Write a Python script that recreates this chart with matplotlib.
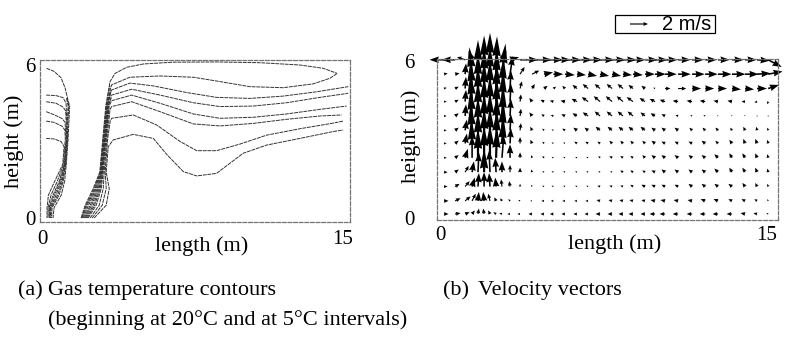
import numpy as np
import matplotlib
matplotlib.use("Agg")
import matplotlib.pyplot as plt
from matplotlib.patches import Rectangle

plt.rcParams["font.family"] = ["Liberation Serif", "DejaVu Serif"]

# ---------------- (a) temperature contours ----------------
# plume next to the left wall
wall_0 = [(0.23, 5.87), (0.6, 5.75), (0.95, 5.5), (1.15, 5.1), (1.3, 4.6), (1.38, 4.4),
          (1.3, 3.1), (1.21, 2.1), (1.13, 1.45), (0.96, 0.9), (0.6, 0.4), (0.55, 0.0)]
wall_1 = [(0.21, 4.82), (0.7, 4.8), (1.05, 4.72), (1.2, 4.5), (1.27, 3.1), (1.18, 2.1),
          (1.05, 1.42), (0.85, 0.9), (0.5, 0.4), (0.48, 0.0)]
wall_2 = [(0.21, 4.56), (0.7, 4.5), (1.05, 4.35), (1.18, 4.2), (1.24, 3.1), (1.15, 2.1),
          (0.95, 1.42), (0.7, 0.9), (0.42, 0.4), (0.42, 0.0)]
wall_3 = [(0.21, 4.17), (0.6, 4.05), (1.0, 3.9), (1.15, 3.75), (1.2, 3.1), (1.11, 2.1),
          (0.85, 1.42), (0.55, 0.9), (0.35, 0.4), (0.36, 0.0)]
wall_4 = [(0.21, 3.8), (0.6, 3.75), (1.0, 3.6), (1.14, 3.45), (1.16, 3.1), (1.07, 2.1),
          (0.75, 1.42), (0.45, 0.9), (0.3, 0.4), (0.3, 0.0)]
wall_5 = [(0.21, 3.12), (0.6, 3.1), (0.95, 3.0), (1.1, 2.8), (1.03, 2.1), (0.62, 1.42),
          (0.32, 0.9), (0.25, 0.4), (0.25, 0.0)]
wall_6 = [(1.25, 4.7), (1.33, 4.4), (1.26, 3.1), (1.17, 2.1), (1.0, 1.42), (0.78, 0.9),
          (0.45, 0.4), (0.45, 0.0)]
wall_7 = [(1.22, 4.7), (1.30, 4.4), (1.22, 3.1), (1.13, 2.1), (0.9, 1.42), (0.62, 0.9),
          (0.38, 0.4), (0.38, 0.0)]

# main plume and the layers spreading to the right
layer_1 = [(1.95, 0.0), (2.15, 0.5), (2.55, 1.15), (2.88, 1.8), (3.03, 3.1), (3.18, 4.4),
           (3.39, 5.35), (3.64, 5.67), (4.22, 5.91), (5.05, 6.04), (6.54, 6.11), (8.70, 6.12),
           (10.86, 6.09), (12.85, 6.0), (14.02, 5.87), (14.71, 5.67)]
layer_2 = [(2.0, 0.0), (2.25, 0.5), (2.65, 1.15), (2.92, 1.8), (3.07, 3.1), (3.23, 4.4),
           (3.42, 5.1), (3.47, 5.22), (4.38, 5.52), (5.88, 5.57), (7.54, 5.52), (8.87, 5.35),
           (10.36, 5.15), (12.02, 5.11), (13.52, 5.26), (14.35, 5.48), (14.71, 5.67)]
layer_3 = [(2.1, 0.0), (2.4, 0.5), (2.75, 1.15), (2.96, 1.8), (3.11, 3.1), (3.27, 4.4),
           (3.42, 4.9), (3.47, 5.02), (4.38, 5.29), (5.55, 5.18), (7.21, 4.92), (8.70, 4.73),
           (10.36, 4.69), (12.02, 4.78), (13.69, 4.95), (15.26, 5.15)]
layer_4 = [(2.2, 0.0), (2.55, 0.5), (2.85, 1.15), (3.0, 1.8), (3.15, 3.1), (3.31, 4.4),
           (3.47, 4.82), (4.47, 5.05), (5.88, 4.82), (7.54, 4.52), (8.87, 4.37), (10.53, 4.39),
           (12.19, 4.52), (13.85, 4.73), (15.26, 4.89)]
layer_5 = [(2.3, 0.0), (2.7, 0.5), (2.95, 1.15), (3.05, 1.8), (3.19, 3.1), (3.35, 4.4),
           (3.47, 4.60), (4.47, 4.82), (5.88, 4.50), (7.54, 4.08), (8.87, 3.91), (10.53, 3.95),
           (12.19, 4.08), (13.85, 4.26), (15.18, 4.39)]
layer_6 = [(2.4, 0.0), (2.85, 0.5), (3.05, 1.15), (3.1, 1.8), (3.23, 3.1), (3.39, 4.25),
           (3.47, 4.37), (4.47, 4.56), (5.88, 4.17), (7.54, 3.69), (8.87, 3.61), (10.53, 3.71),
           (12.19, 3.87), (13.85, 4.0), (14.93, 4.04)]
layer_7 = [(2.5, 0.0), (3.0, 0.5), (3.2, 1.15), (3.15, 1.8), (3.27, 3.1), (3.4, 3.8),
           (3.47, 3.91), (4.55, 4.04), (5.71, 3.65), (6.88, 3.0), (7.71, 2.64), (8.70, 2.64),
           (9.87, 2.9), (11.2, 3.25), (12.85, 3.5), (14.51, 3.72), (15.01, 3.8)]
layer_8 = [(2.6, 0.0), (3.2, 0.5), (3.35, 1.15), (3.2, 1.8), (3.3, 2.8), (3.55, 3.06),
           (4.55, 3.28), (5.55, 3.12), (6.21, 2.5), (7.04, 1.82), (7.71, 1.65), (8.70, 1.75),
           (10.03, 2.54), (11.2, 2.86), (12.85, 3.12), (14.51, 3.39), (15.01, 3.45)]
plume_a = [(1.97, 0.0), (2.2, 0.5), (2.6, 1.15), (2.9, 1.8), (3.05, 3.1), (3.2, 4.4), (3.38, 5.2)]
plume_b = [(2.05, 0.0), (2.32, 0.5), (2.7, 1.15), (2.94, 1.8), (3.09, 3.1), (3.25, 4.4), (3.43, 5.0)]
plume_c = [(2.15, 0.0), (2.47, 0.5), (2.8, 1.15), (2.98, 1.8), (3.13, 3.1), (3.29, 4.4), (3.45, 4.7)]
plume_d = [(2.25, 0.0), (2.62, 0.5), (2.9, 1.15), (3.02, 1.8), (3.17, 3.1), (3.33, 4.3)]

contours = [wall_0, wall_1, wall_2, wall_3, wall_4, wall_5, wall_6, wall_7,
            layer_1, layer_2, layer_3, layer_4, layer_5, layer_6, layer_7, layer_8,
            plume_a, plume_b, plume_c, plume_d]

# ---------------- (b) velocity vectors (m/s), rows from ceiling to floor ----------------
vec_x = [0.18, 0.69, 1.15, 1.47, 1.74, 2.02, 2.29, 2.57, 2.84, 3.21, 3.67, 4.22, 4.77, 5.2,
         5.73, 6.28, 6.79, 7.34, 7.89, 8.39, 8.85, 9.40, 9.86, 10.32, 10.92, 11.56, 12.16,
         12.75, 13.39, 13.99, 14.54, 15.05]
vec_y = [6.05, 5.5, 4.95, 4.45, 3.9, 3.35, 2.85, 2.3, 1.75, 1.2, 0.65, 0.15]

vel_u = [
    [-1.6, -1.5, -0.9, -0.4, 0.0, 0.0, 0.0, 0.2, 0.5, 1.0, 2.0, 2.2, 2.1, 1.9, 1.8, 1.7,
     1.6, 1.6, 1.5, 1.5, 1.4, 1.4, 1.4, 1.4, 1.4, 1.3, 1.3, 1.3, 1.3, 1.3, 1.4, 1.5],
    [0.4, 0.5, 0.1, -0.3, 0.0, 0.0, 0.0, 0.1, 0.4, 0.3, 0.5, 0.8, 1.0, 1.1, 1.1, 1.0,
     1.0, 1.0, 1.0, 1.0, 1.1, 1.1, 1.2, 1.3, 1.4, 1.4, 1.4, 1.5, 1.5, 1.5, 1.5, 1.6],
    [0.3, 0.4, 0.1, -0.2, 0.0, 0.0, 0.0, 0.1, 0.2, 0.1, 0.2, 0.3, 0.4, 0.3, -0.3, -0.5,
     -0.6, -0.6, -0.6, -0.6, -0.5, -0.4, -0.2, 0.6, 0.9, 1.0, 1.0, 1.0, 1.0, 1.0, 1.1, 1.2],
    [0.3, 0.4, 0.1, -0.2, 0.0, 0.0, 0.0, 0.1, 0.2, 0.1, 0.1, -0.3, -0.4, -0.4, -0.5, -0.6,
     -0.7, -0.7, -0.7, -0.7, -0.7, -0.6, -0.6, -0.6, -0.6, -0.6, -0.6, -0.5, -0.5, -0.4, -0.3, -0.1],
    [0.3, 0.4, 0.1, -0.2, 0.0, 0.0, 0.0, 0.1, 0.2, 0.1, 0.1, -0.3, -0.3, -0.3, -0.4, -0.5,
     -0.6, -0.6, -0.6, -0.6, -0.6, -0.5, -0.5, -0.4, -0.3, -0.2, -0.2, -0.1, -0.1, -0.1, 0.0, 0.0],
    [0.3, 0.4, 0.2, -0.2, 0.0, 0.0, 0.0, 0.1, 0.2, 0.1, 0.1, -0.2, -0.2, -0.2, -0.3, -0.4,
     -0.4, -0.5, -0.5, -0.5, -0.5, -0.5, -0.4, -0.4, -0.4, -0.3, -0.3, -0.3, -0.2, -0.2, -0.1, -0.1],
    [0.3, 0.4, 0.2, -0.1, 0.0, 0.0, 0.0, 0.1, 0.2, 0.1, 0.0, -0.2, -0.2, -0.2, -0.2, -0.3,
     -0.3, -0.3, -0.3, -0.3, -0.3, -0.3, -0.4, -0.4, -0.4, -0.4, -0.4, -0.3, -0.3, -0.2, -0.2, -0.1],
    [0.3, 0.4, 0.3, 0.0, 0.0, 0.0, 0.0, 0.1, 0.2, 0.0, 0.0, -0.1, -0.2, -0.2, -0.2, -0.2,
     -0.2, -0.2, -0.3, -0.3, -0.3, -0.3, -0.4, -0.4, -0.4, -0.4, -0.4, -0.4, -0.3, -0.3, -0.2, -0.1],
    [0.4, 0.4, 0.4, 0.2, 0.1, 0.0, -0.1, -0.1, 0.0, 0.0, 0.0, -0.1, -0.2, -0.2, -0.2, -0.2,
     -0.2, -0.2, -0.2, -0.3, -0.3, -0.3, -0.4, -0.4, -0.4, -0.4, -0.4, -0.4, -0.3, -0.3, -0.2, -0.1],
    [0.4, 0.5, 0.5, 0.3, 0.1, 0.0, -0.1, -0.1, -0.1, -0.1, 0.0, -0.1, -0.2, -0.2, -0.2, -0.2,
     -0.2, -0.3, -0.3, -0.3, -0.3, -0.4, -0.4, -0.4, -0.4, -0.4, -0.4, -0.4, -0.4, -0.3, -0.2, -0.1],
    [0.5, 0.6, 0.6, 0.4, 0.1, -0.1, -0.2, -0.2, -0.2, -0.2, -0.2, -0.2, -0.3, -0.3, -0.3, -0.3,
     -0.3, -0.4, -0.4, -0.4, -0.4, -0.4, -0.5, -0.5, -0.5, -0.5, -0.5, -0.5, -0.4, -0.4, -0.3, -0.1],
    [0.5, 0.6, 0.5, 0.3, 0.1, -0.1, -0.2, -0.3, -0.3, -0.3, -0.3, -0.4, -0.4, -0.4, -0.4, -0.4,
     -0.4, -0.5, -0.5, -0.5, -0.5, -0.5, -0.6, -0.6, -0.6, -0.6, -0.6, -0.6, -0.6, -0.5, -0.4, -0.2],
]
vel_v = [
    [0.0, 0.0, 0.3, 1.0, 1.3, 1.6, 1.8, 1.5, 1.0, 0.3, 0.0, 0.0, 0.0, 0.0, 0.0, 0.0,
     0.0, 0.0, 0.0, 0.0, 0.0, 0.0, 0.0, 0.0, 0.0, 0.0, 0.0, 0.0, 0.0, 0.0, -0.1, -0.8],
    [0.1, 0.1, 1.2, 3.0, 3.8, 4.3, 4.6, 4.2, 3.4, 2.0, 0.8, 0.4, 0.2, 0.0, -0.1, -0.1,
     -0.2, -0.2, -0.2, -0.1, -0.1, 0.0, 0.0, 0.0, 0.0, 0.0, 0.0, 0.0, 0.0, 0.0, 0.1, 0.3],
    [0.1, 0.2, 1.3, 3.0, 3.8, 4.4, 4.6, 4.2, 3.3, 2.0, 0.8, 0.5, 0.3, 0.2, 0.3, 0.4,
     0.5, 0.5, 0.5, 0.5, 0.4, 0.3, 0.1, 0.0, 0.0, 0.0, 0.0, 0.0, -0.1, -0.1, 0.0, 0.4],
    [0.0, 0.2, 1.3, 3.0, 3.8, 4.3, 4.5, 4.1, 3.2, 2.0, 0.8, 0.4, 0.2, 0.1, 0.1, 0.3,
     0.5, 0.6, 0.6, 0.6, 0.5, 0.4, 0.3, 0.2, 0.1, 0.1, 0.1, 0.1, 0.1, 0.0, -0.1, -0.3],
    [0.0, 0.3, 1.3, 2.9, 3.7, 4.2, 4.3, 4.0, 3.1, 1.9, 0.8, 0.4, 0.2, 0.1, 0.2, 0.3,
     0.4, 0.5, 0.5, 0.5, 0.5, 0.4, 0.3, 0.2, 0.1, 0.1, 0.1, 0.1, 0.1, 0.1, 0.1, 0.0],
    [0.0, 0.3, 1.2, 2.8, 3.6, 4.0, 4.1, 3.8, 3.0, 1.8, 0.8, 0.4, 0.2, 0.1, 0.2, 0.3,
     0.3, 0.4, 0.4, 0.4, 0.4, 0.4, 0.3, 0.3, 0.3, 0.3, 0.3, 0.3, 0.3, 0.4, 0.4, 0.3],
    [0.0, 0.3, 1.1, 2.6, 3.4, 3.8, 3.9, 3.6, 2.8, 1.7, 0.7, 0.4, 0.2, 0.1, 0.1, 0.2,
     0.2, 0.2, 0.3, 0.3, 0.3, 0.3, 0.3, 0.2, 0.2, 0.2, 0.3, 0.3, 0.4, 0.5, 0.5, 0.4],
    [0.0, 0.3, 1.0, 2.4, 3.2, 3.5, 3.6, 3.3, 2.5, 1.5, 0.6, 0.3, 0.2, 0.1, 0.1, 0.1,
     0.1, 0.2, 0.2, 0.2, 0.2, 0.3, 0.3, 0.3, 0.3, 0.3, 0.3, 0.4, 0.5, 0.5, 0.5, 0.4],
    [0.0, 0.3, 0.7, 1.2, 2.2, 2.6, 2.4, 1.6, 1.2, 0.8, 0.5, 0.3, 0.1, 0.1, 0.1, 0.1,
     0.1, 0.1, 0.1, 0.2, 0.2, 0.2, 0.2, 0.3, 0.3, 0.3, 0.3, 0.4, 0.5, 0.5, 0.5, 0.4],
    [0.0, 0.3, 0.6, 1.0, 1.5, 1.6, 1.5, 1.0, 0.8, 0.6, 0.3, 0.2, 0.1, 0.1, 0.1, 0.1,
     0.1, 0.1, 0.1, 0.1, 0.2, 0.2, 0.2, 0.2, 0.2, 0.3, 0.3, 0.3, 0.3, 0.4, 0.4, 0.3],
    [0.0, 0.3, 0.5, 0.8, 1.0, 1.0, 0.8, 0.4, 0.3, 0.2, 0.1, 0.0, 0.0, 0.0, 0.0, 0.0,
     0.0, 0.1, 0.1, 0.1, 0.1, 0.1, 0.1, 0.1, 0.1, 0.1, 0.2, 0.2, 0.2, 0.2, 0.2, 0.2],
    [0.0, 0.1, 0.2, 0.4, 0.6, 0.6, 0.4, 0.2, 0.1, 0.0, 0.0, 0.0, 0.0, 0.0, 0.0, 0.0,
     0.0, 0.0, 0.0, 0.0, 0.0, 0.0, 0.0, 0.0, 0.0, 0.0, 0.0, 0.0, 0.0, 0.1, 0.1, 0.1],
]

key_speed = 2.0

# ---------------- figure ----------------
W, H = 790, 337
fig = plt.figure(figsize=(W / 100, H / 100), dpi=100)


def fx(px):
    return px / W


def fy(py):
    return 1 - py / H


axL = fig.add_axes([fx(40), fy(222), 310 / W, 162 / H])
axR = fig.add_axes([fx(437), fy(220), 341 / W, 161 / H])

for line in contours:
    xs, ys = zip(*line)
    axL.plot(xs, ys, color="0.2", lw=0.7, ls=(0, (4, 0.8)))

axL.set_xlim(-0.1, 15.35)
axL.set_ylim(-0.157, 6.196)

X, Y = np.meshgrid(vec_x, vec_y)
U = np.array(vel_u)
V = np.array(vel_v)
mag = np.hypot(U, V)
# heads grow with speed, as in the original plot
arrow_sets = [
    (mag < 1.0, dict(width=1.15, headwidth=3.5, headlength=4.0, headaxislength=3.6)),
    ((mag >= 1.0) & (mag < 2.6), dict(width=1.6, headwidth=4.2, headlength=5.8, headaxislength=5.3)),
    (mag >= 2.6, dict(width=2.2, headwidth=3.8, headlength=9.0, headaxislength=8.5)),
]
quivers = []
for sel, kw in arrow_sets:
    q = axR.quiver(X[sel], Y[sel], U[sel], V[sel], units="dots", scale_units="dots",
                   scale=1 / 9, pivot="tail", color="black", clip_on=False, **kw)
    quivers.append(q)

axR.set_xlim(-0.14, 15.5)
axR.set_ylim(-0.08, 6.08)

axR.quiverkey(quivers[0], X=fx(648), Y=fy(24), U=key_speed, label="2 m/s", labelpos="E",
              coordinates="figure", labelsep=0.14,
              fontproperties={"family": "Liberation Sans", "size": 14.5})
fig.add_artist(Rectangle((fx(615), fy(33)), 100 / W, 18 / H, transform=fig.transFigure,
                         fill=False, lw=0.9, ec="black"))

for ax in (axL, axR):
    ax.set_xticks([0, 15])
    ax.set_yticks([0, 6])
    for s in ax.spines.values():
        s.set_linestyle((0, (3, 1.5)))
        s.set_color("0.45")
        s.set_linewidth(0.9)
axL.tick_params(length=0, labelsize=15)
axL.tick_params(axis="x", pad=6)
axL.tick_params(axis="y", pad=3)
axR.tick_params(length=0, labelsize=15)
axR.tick_params(axis="x", pad=4)
axR.tick_params(axis="y", pad=16)

fig.text(fx(14.5), fy(141), "height (m)", rotation=90, ha="center", va="center", fontsize=16)
fig.text(fx(202), fy(246), "length (m)", ha="center", va="center", fontsize=16)
fig.text(fx(411), fy(136), "height (m)", rotation=90, ha="center", va="center", fontsize=16)
fig.text(fx(615), fy(244), "length (m)", ha="center", va="center", fontsize=16)

fig.text(fx(18), fy(291), "(a)", va="center", fontsize=16)
fig.text(fx(48), fy(291), "Gas temperature contours", va="center", fontsize=16)
fig.text(fx(48), fy(320), "(beginning at 20\u00b0C and at 5\u00b0C intervals)", va="center", fontsize=16)
fig.text(fx(443), fy(291), "(b)", va="center", fontsize=16)
fig.text(fx(478), fy(291), "Velocity vectors", va="center", fontsize=16)

fig.savefig("out.png", dpi=100)
